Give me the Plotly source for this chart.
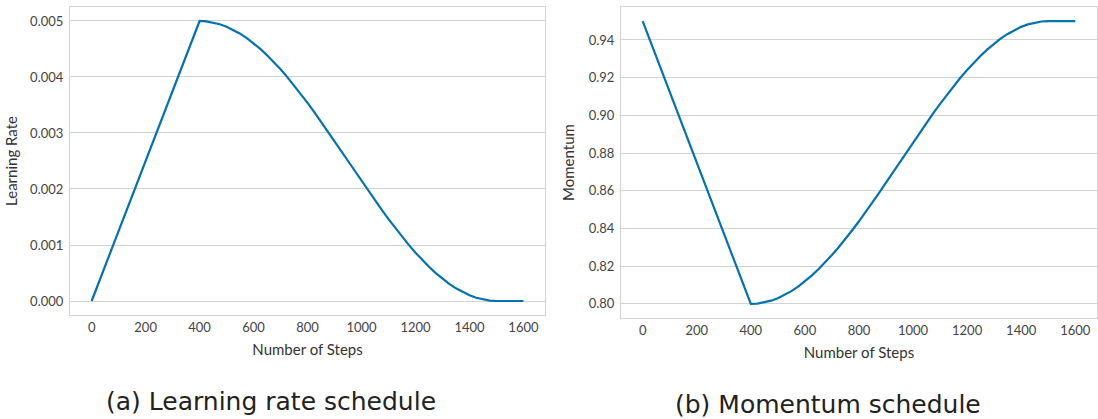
import plotly.graph_objects as go

steps = list(range(0, 1601, 25))

learning_rate = [
    0.0, 0.0003125, 0.000625, 0.0009375, 0.00125, 0.0015625, 0.001875, 0.0021875,
    0.0025, 0.0028125, 0.003125, 0.0034375, 0.00375, 0.0040625, 0.004375, 0.0046875,
    0.005,
    0.004994, 0.004974, 0.004943, 0.004899, 0.004842, 0.004774, 0.004694, 0.004603,
    0.004501, 0.004389, 0.004268, 0.004137, 0.003998, 0.003852, 0.003698, 0.003539,
    0.003374, 0.003204, 0.003031, 0.002856, 0.002678, 0.0025, 0.002322, 0.002144,
    0.001969, 0.001796, 0.001626, 0.001462, 0.001302, 0.001149, 0.001002, 0.000863,
    0.000732, 0.000611, 0.000499, 0.000397, 0.000306, 0.000226, 0.000158, 0.000101,
    0.000057, 0.000026, 0.000006, 0.0, 0.0, 0.0, 0.0, 0.0,
]

momentum = [
    0.95, 0.940625, 0.93125, 0.921875, 0.9125, 0.903125, 0.89375, 0.884375,
    0.875, 0.865625, 0.85625, 0.846875, 0.8375, 0.828125, 0.81875, 0.809375,
    0.80,
    0.80018, 0.80078, 0.80171, 0.80303, 0.80474, 0.80678, 0.80918, 0.81191,
    0.81497, 0.81833, 0.82196, 0.82589, 0.83006, 0.83444, 0.83906, 0.84383,
    0.84878, 0.85388, 0.85907, 0.86432, 0.86966, 0.875, 0.88034, 0.88568,
    0.89093, 0.89612, 0.90122, 0.90614, 0.91094, 0.91553, 0.91994, 0.92411,
    0.92804, 0.93167, 0.93503, 0.93809, 0.94082, 0.94322, 0.94526, 0.94697,
    0.94829, 0.94922, 0.94982, 0.95, 0.95, 0.95, 0.95, 0.95,
]

x_ticks = [0, 200, 400, 600, 800, 1000, 1200, 1400, 1600]
lr_ticks = [0.000, 0.001, 0.002, 0.003, 0.004, 0.005]
mom_ticks = [0.80, 0.82, 0.84, 0.86, 0.88, 0.90, 0.92, 0.94]

LINE = "#0173B2"
GRID = "#d3d3d3"
FONT = "Lato"
CAP_FONT = "DejaVu Sans"
TICKC = "#444444"

fig = go.Figure()
fig.add_trace(go.Scatter(x=steps, y=learning_rate, mode="lines",
                         line=dict(color=LINE, width=2.2), xaxis="x", yaxis="y",
                         showlegend=False))
fig.add_trace(go.Scatter(x=steps, y=momentum, mode="lines",
                         line=dict(color=LINE, width=2.2), xaxis="x2", yaxis="y2",
                         showlegend=False))

common_x = dict(range=[-80, 1680], tickvals=x_ticks, showgrid=False, zeroline=False,
                showline=True, linecolor=GRID, linewidth=1.2, mirror=True, ticks="",
                tickfont=dict(family=FONT, size=13, color=TICKC),
                title=dict(text="Number of Steps", font=dict(family=FONT, size=15, color="#333"),
                           standoff=10))
common_y = dict(showgrid=True, gridcolor=GRID, gridwidth=1.2, zeroline=False,
                showline=True, linecolor=GRID, linewidth=1.2, mirror=True, ticks="",
                ticklabelstandoff=3,
                tickfont=dict(family=FONT, size=13, color=TICKC))

fig.update_layout(
    width=1098, height=419,
    margin=dict(l=0, r=0, t=0, b=0),
    paper_bgcolor="white", plot_bgcolor="white",
    xaxis=dict(domain=[0.0638, 0.4964], anchor="y", **common_x),
    yaxis=dict(domain=[0.2482, 0.9833], anchor="x", range=[-0.00025, 0.00525],
               tickvals=lr_ticks, tickformat=".3f",
               title=dict(text="Learning Rate", font=dict(family=FONT, size=15, color="#333"),
                          standoff=8),
               **common_y),
    xaxis2=dict(domain=[0.5656, 0.999], anchor="y2", **common_x),
    yaxis2=dict(domain=[0.241, 0.9833], anchor="x2", range=[0.7925, 0.9575],
                tickvals=mom_ticks, tickformat=".2f",
                title=dict(text="Momentum", font=dict(family=FONT, size=15, color="#333"),
                           standoff=10),
                **common_y),
    annotations=[
        dict(text="(a) Learning rate schedule", x=271 / 1098, y=1 - 401 / 419, xref="paper",
             yref="paper", yanchor="middle", xanchor="center", showarrow=False,
             font=dict(family=CAP_FONT, size=25, color="#222")),
        dict(text="(b) Momentum schedule", x=828 / 1098, y=1 - 404 / 419, xref="paper",
             yref="paper", yanchor="middle", xanchor="center", showarrow=False,
             font=dict(family=CAP_FONT, size=25, color="#222")),
    ],
)

fig.write_html("out.html", config={"displayModeBar": False},
               post_script="document.body.style.margin='0';")
